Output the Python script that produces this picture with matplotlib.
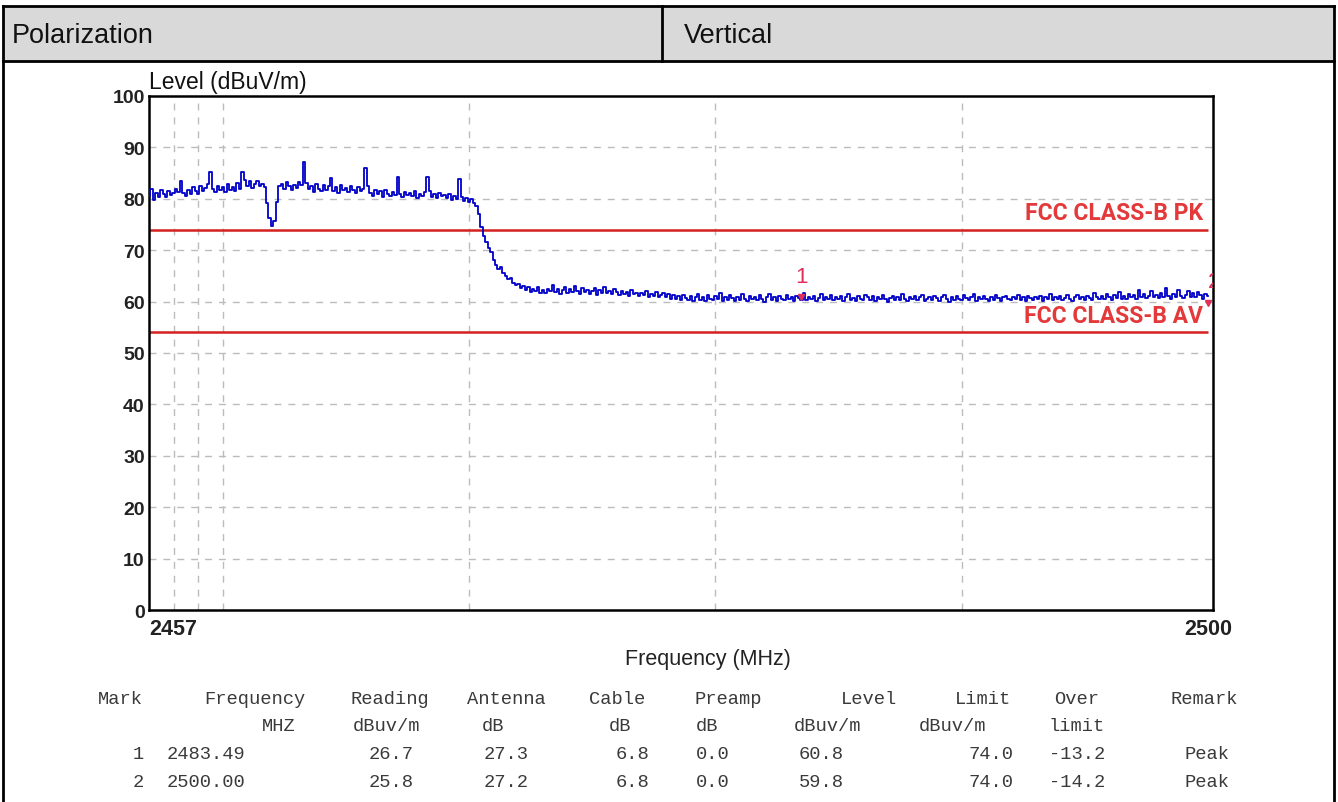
import numpy as np
import matplotlib
matplotlib.use("Agg")
import matplotlib.pyplot as plt
from matplotlib.patches import Rectangle
from matplotlib.lines import Line2D

# ---------------------------------------------------------------
# data (sweep 2457 - 2500 MHz, 0.1 MHz steps)
# ---------------------------------------------------------------
f_start, f_stop = 2457.0, 2500.0
n_points = 431

level = [
    80.6, 81.9, 79.8, 81.2, 80.4, 81.7, 80.9, 80.3, 81.5, 80.8,
    81.2, 82.0, 81.4, 83.5, 81.1, 80.6, 81.8, 81.0, 82.2, 81.5,
    80.9, 82.4, 81.6, 82.1, 82.8, 85.3, 82.0, 81.3, 82.5, 81.7,
    82.2, 81.4, 82.9, 81.8, 82.3, 81.6, 83.1, 82.0, 85.2, 83.6,
    82.5, 83.4, 82.1, 82.8, 83.5, 82.4, 82.9, 82.2, 79.2, 76.3,
    74.8, 75.6, 79.4, 82.5, 82.9, 82.0, 83.2, 82.4, 81.8, 82.7,
    82.1, 83.3, 82.6, 87.1, 83.0, 81.9, 82.5, 81.4, 82.8, 82.0,
    81.6, 82.7, 81.8, 82.4, 84.0, 81.5, 82.3, 81.2, 82.6, 81.7,
    82.1, 81.3, 82.5, 81.8, 81.1, 82.2, 81.6, 82.0, 86.0, 82.4,
    81.2, 80.6, 81.8, 80.9, 81.5, 80.4, 81.7, 81.0, 80.5, 81.3,
    80.8, 84.2, 81.0, 80.3, 81.4, 80.7, 81.2, 80.5, 81.6, 80.2,
    81.0, 80.6, 81.3, 84.2, 81.5, 80.4, 80.9, 80.1, 81.1, 80.5,
    80.8, 80.2, 81.0, 79.7, 80.6, 80.0, 83.8, 80.3, 79.6, 80.1,
    79.4, 79.9, 79.2, 78.6, 77.0, 74.5, 72.8, 71.5, 70.4, 69.6,
    68.0, 67.2, 66.4, 66.8, 65.5, 65.0, 64.3, 64.6, 63.6, 63.2,
    63.5, 62.6, 63.1, 62.2, 62.8, 61.9, 62.5, 62.0, 62.9, 61.7,
    62.3, 61.6, 62.4, 62.0, 63.2, 61.8, 62.5, 61.5, 62.2, 62.8,
    61.6, 62.4, 61.9, 63.0, 62.1, 61.4, 62.6, 61.8, 62.3, 61.5,
    62.0, 62.7, 61.3, 62.2, 61.7, 62.9, 61.6, 62.1, 61.4, 62.4,
    61.8, 61.2, 62.0, 61.5, 61.9, 61.1, 62.3, 61.4, 61.7, 61.0,
    61.6, 61.2, 62.1, 60.9, 61.5, 61.0, 61.8, 60.8, 61.3, 61.6,
    60.9, 61.4, 60.6, 61.2, 60.5, 61.0, 60.3, 61.3, 60.7, 60.4,
    61.1, 60.2, 60.8, 61.5, 60.4, 60.9, 60.1, 61.2, 60.6, 60.3,
    61.0, 60.5, 61.6, 60.2, 60.8, 60.4, 61.3, 60.7, 60.1, 60.9,
    60.4, 61.4, 60.6, 60.2, 61.1, 60.5, 60.9, 60.3, 61.2, 60.6,
    60.0, 60.8, 61.5, 60.4, 60.9, 60.2, 61.0, 60.6, 60.3, 61.3,
    60.5, 60.9, 60.1, 61.1, 60.7, 60.4, 61.6, 60.3, 60.8, 60.5,
    61.0, 60.2, 60.7, 61.4, 60.4, 60.9, 60.6, 61.2, 60.3, 60.8,
    60.5, 61.1, 60.2, 60.9, 61.5, 60.4, 60.7, 60.1, 61.0, 60.6,
    60.3, 61.2, 60.8, 60.4, 61.0, 60.2, 60.9, 60.6, 61.3, 60.5,
    60.0, 60.7, 61.1, 60.4, 60.8, 60.3, 61.4, 60.6, 60.2, 60.9,
    60.5, 61.0, 60.3, 60.8, 61.2, 60.1, 60.6, 60.9, 60.4, 61.1,
    60.7, 60.2, 60.8, 61.3, 60.5, 60.0, 60.9, 60.4, 61.0, 60.6,
    60.3, 61.2, 60.7, 60.4, 60.9, 61.5, 60.2, 60.8, 60.5, 61.0,
    60.6, 60.1, 60.9, 60.4, 61.3, 60.7, 60.2, 60.8, 61.1, 60.5,
    60.3, 60.9, 60.6, 61.2, 60.4, 60.8, 60.1, 61.0, 60.7, 60.3,
    60.9, 60.5, 61.1, 60.2, 60.8, 60.6, 61.4, 60.3, 60.9, 60.5,
    61.0, 60.4, 60.7, 61.3, 60.6, 60.2, 60.9, 61.2, 60.5, 60.8,
    60.4, 61.1, 60.7, 60.3, 61.6, 60.8, 60.5, 61.0, 60.6, 61.4,
    60.9, 60.4, 61.2, 60.7, 61.8, 60.6, 61.0, 60.5, 61.5, 60.8,
    61.2, 60.6, 62.3, 60.9, 61.4, 60.7, 61.1, 62.0, 60.8, 61.3,
    60.7, 61.6, 60.9, 62.6, 61.0, 60.6, 61.5, 60.8, 62.2, 61.1,
    60.7, 61.3, 62.0, 60.9, 61.6, 60.8, 61.9, 61.2, 60.6, 61.4,
    61.0,
]
freq = np.linspace(f_start, f_stop, n_points)

limit_pk = 74.0
limit_av = 54.0
limit_names = ["FCC CLASS-B PK", "FCC CLASS-B AV"]

y_ticks = [0, 10, 20, 30, 40, 50, 60, 70, 80, 90, 100]
x_grid = [2458, 2459, 2460, 2470, 2480, 2490]

mark_no = [1, 2]
mark_freq = [2483.49, 2500.00]
mark_level = [60.8, 59.8]

head1 = ["Mark", "Frequency", "Reading", "Antenna", "Cable", "Preamp",
         "Level", "Limit", "Over", "Remark"]
head2 = ["", "MHZ", "dBuv/m", "dB", "dB", "dB", "dBuv/m", "dBuv/m", "limit", ""]
rows = [
    ["1", "2483.49", "26.7", "27.3", "6.8", "0.0", "60.8", "74.0", "-13.2", "Peak"],
    ["2", "2500.00", "25.8", "27.2", "6.8", "0.0", "59.8", "74.0", "-14.2", "Peak"],
]

# ---------------------------------------------------------------
W, H = 1338, 803
fig = plt.figure(figsize=(W / 100, H / 100), dpi=100)
fig.patch.set_facecolor("white")


def fx(x):
    return x / W


def fy(y):
    return 1 - y / H


# outer frame and header row
fig.patches.append(Rectangle((fx(3), fy(62)), fx(1334) - fx(3), fy(7) - fy(62),
                             transform=fig.transFigure, facecolor="#d9d9d9",
                             edgecolor="none", zorder=0))
frame_kw = dict(transform=fig.transFigure, color="black", lw=2)
fig.lines.append(Line2D([fx(3), fx(1334)], [fy(7), fy(7)], **frame_kw))
fig.lines.append(Line2D([fx(3), fx(1334)], [fy(62), fy(62)], **frame_kw))
fig.lines.append(Line2D([fx(3), fx(3)], [fy(7), fy(803)], **frame_kw))
fig.lines.append(Line2D([fx(1334), fx(1334)], [fy(7), fy(803)], **frame_kw))
fig.lines.append(Line2D([fx(662), fx(662)], [fy(7), fy(62)], **frame_kw))

fig.text(fx(12), fy(36), "Polarization", family="Liberation Sans", fontsize=19.5,
         va="center", ha="left", color="#111111")
fig.text(fx(684), fy(36), "Vertical", family="Liberation Sans", fontsize=19.5,
         va="center", ha="left", color="#111111")

# ---------------------------------------------------------------
# chart
ax = fig.add_axes([fx(149), fy(611), fx(1213) - fx(149), fy(97) - fy(611)])
x_right = f_start + (f_stop - f_start) * (1213 - 149) / (1208 - 149)
ax.set_xlim(f_start, x_right)
ax.set_ylim(0, 100)

for g in y_ticks[1:-1]:
    ax.axhline(g, color="#bcbcbc", lw=1, dashes=(5, 5), zorder=1)
for g in x_grid:
    ax.axvline(g, color="#bcbcbc", lw=1, dashes=(5, 5), zorder=1)

ax.plot(freq, level, color="#0000c8", lw=1.3, drawstyle="steps-mid", zorder=3)
ax.hlines([limit_pk, limit_av], f_start, f_stop, color="#d42020", lw=1.8, zorder=2)

fcc_font = ["Roboto", "DejaVu Sans"]
ax.text(2499.8, limit_pk + 1.1, limit_names[0], color="#e3393a", fontsize=16.5,
        fontweight="bold", family=fcc_font, ha="right", va="bottom", zorder=4)
ax.text(2499.8, limit_av + 1.1, limit_names[1], color="#e3393a", fontsize=16.5,
        fontweight="bold", family=fcc_font, ha="right", va="bottom", zorder=4)

for n, f, lv in zip(mark_no, mark_freq, mark_level):
    ax.plot([f], [lv], marker="v", ms=5, color="#e0305a", zorder=5, clip_on=True)
    ax.text(f, lv + 2.0, str(n), color="#e0305a", fontsize=16,
            ha="center" if n == 1 else "left", va="bottom",
            family="Liberation Sans", zorder=5, clip_on=True)

ax.set_yticks(y_ticks)
ax.set_yticklabels([str(t) for t in y_ticks], fontsize=14, fontweight="bold",
                   family="Liberation Sans", color="#222222")
ax.set_xticks([])
ax.tick_params(axis="y", length=0, pad=3)
for s in ax.spines.values():
    s.set_linewidth(1.8)
    s.set_color("black")

ax.text(0, 1.005, "Level (dBuV/m)", transform=ax.transAxes, fontsize=16.5,
        family="Liberation Sans", ha="left", va="bottom", color="#111111")
ax.text(f_start, -1.6, "2457", fontsize=15.5, fontweight="bold", family="Liberation Sans",
        ha="left", va="top", color="#222222")
ax.text(f_stop, -1.6, "2500", fontsize=15.5, fontweight="bold", family="Liberation Sans",
        ha="center", va="top", color="#222222")
fig.text(fx(708), fy(660), "Frequency (MHz)", fontsize=15.5, family="Liberation Sans",
         ha="center", va="center", color="#222222")

# ---------------------------------------------------------------
# marker table (monospace)
col_x = [98, 204, 351, 467, 589, 694, 841, 955, 1054, 1170]
col_x2 = [0, 262, 353, 482, 609, 696, 794, 919, 1049, 0]
col_xr = [133, 167, 369, 484, 616, 696, 799, 969, 1049, 1185]
row_y = [700, 727, 755, 783]
mono = dict(family="Liberation Mono", fontsize=13.5, color="#3a3a3a", va="center", ha="left")

for x, t in zip(col_x, head1):
    fig.text(fx(x), fy(row_y[0]), t, **mono)
for x, t in zip(col_x2, head2):
    if t:
        fig.text(fx(x), fy(row_y[1]), t, **mono)
for r, row in enumerate(rows):
    for x, t in zip(col_xr, row):
        fig.text(fx(x), fy(row_y[2 + r]), t, **mono)

fig.savefig("out.png", dpi=100)
